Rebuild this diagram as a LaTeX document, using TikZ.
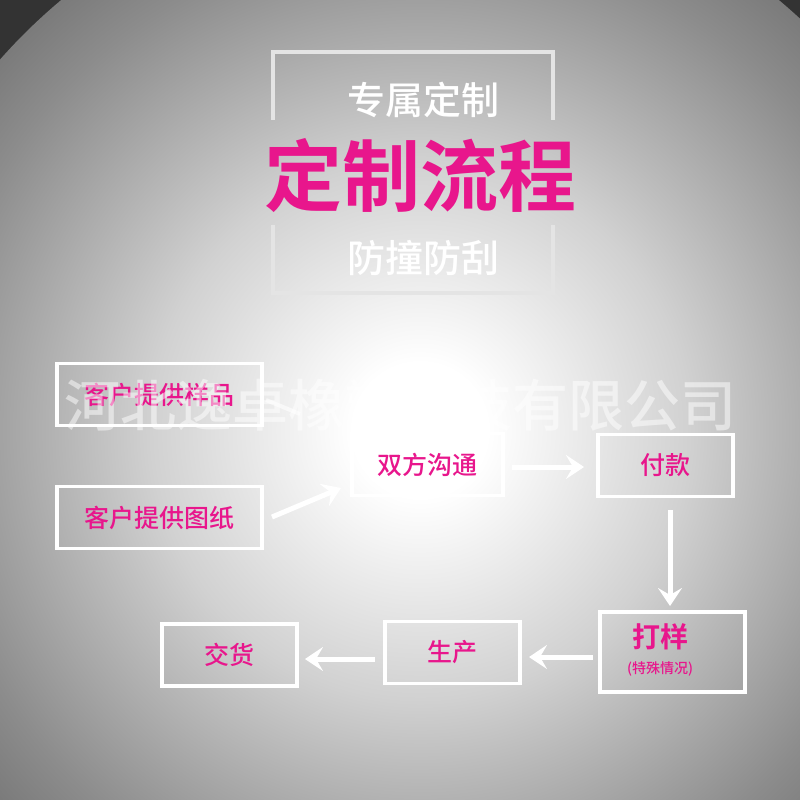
\documentclass[tikz,border=0pt]{standalone}
\usepackage{fontspec}
\newfontfamily\cjk{Noto Sans CJK SC Medium}
\newfontfamily\cjkb{Noto Sans CJK SC Bold}
\usetikzlibrary{arrows.meta}
\definecolor{mag}{HTML}{E8168C}
\definecolor{frm}{HTML}{E4E4E4}
\pgfdeclareradialshading{bgs}{\pgfpoint{0bp}{0bp}}{color(0bp)=(white); color(3bp)=(white); color(12bp)=(black!18); color(22bp)=(black!45); color(32bp)=(black!68); color(50bp)=(black!80)}
\begin{document}
\begin{tikzpicture}[x=1pt,y=-1pt,
  box/.style={draw=white,line width=3.5pt,minimum width=#1,minimum height=62pt,inner sep=0pt,font=\cjk\fontsize{25}{25}\selectfont,text=mag},
  box/.default=140pt,
  arr/.style={draw=white,line width=5pt,-{Stealth[length=18pt,width=24pt,inset=7pt]}}]
\useasboundingbox (0,0) rectangle (800,800);
\fill[black!80] (0,0) rectangle (800,800);
\begin{scope}
\clip (0,0) rectangle (800,800);
\shade[shading=bgs] (420,430) circle (560);
\end{scope}
% title frame
\draw[frm,line width=3.5pt] (273,120) -- (273,52) -- (553,52) -- (553,120);
\draw[frm,line width=3.5pt] (273,225) -- (273,293) -- (553,293) -- (553,225);
\node (t1) at (423,100) {\cjk\fontsize{38}{38}\selectfont\color{white}专属定制};
\node (t2) at (420,176) {\cjkb\fontsize{78}{78}\selectfont\color{mag}定制流程};
\node (t3) at (423,258) {\cjk\fontsize{38}{38}\selectfont\color{white}防撞防刮};
% boxes
\node[box=205pt] (b1) at (159.5,394.5) {客户提供样品};
\node[box=205pt] (b2) at (159.5,517.5) {客户提供图纸};
\node[box=151pt] (b3) at (427.5,464.5) {双方沟通};
\node[box=135pt] (b4) at (665.5,465.5) {付款};
\node[box=145pt,minimum height=80pt] (b5) at (672.5,652) {};
\node[font=\cjkb\fontsize{28}{28}\selectfont,text=mag] (b5a) at (660,637) {打样};
\node[font=\cjk\fontsize{14}{14}\selectfont,text=mag] (b5b) at (660,669) {(特殊情况)};
\node[box=135pt] (b6) at (452.5,652.5) {生产};
\node[box=135pt] (b7) at (229.5,655) {交货};
% watermark
\node[font=\cjk\fontsize{56}{56}\selectfont,text=white,opacity=0.5] (wm) at (400,405) {河北逸卓橡塑科技有限公司};
% arrows
\coordinate (c1a) at (266,400);
\coordinate (c1) at (300,414);
\draw[white,line width=4pt,opacity=0.6] (c1a) -- (c1);
\coordinate (a1) at (272,517);
\coordinate (a2) at (341,488);
\draw[arr] (a1) -- (a2);
\coordinate (a3) at (512,467);
\coordinate (a4) at (584,467);
\draw[arr] (a3) -- (a4);
\coordinate (a5) at (670,510);
\coordinate (a6) at (670,606);
\draw[arr] (a5) -- (a6);
\coordinate (a7) at (593,657);
\coordinate (a8) at (529,657);
\draw[arr] (a7) -- (a8);
\coordinate (a9) at (375,659);
\coordinate (a10) at (305,659);
\draw[arr] (a9) -- (a10);
\end{tikzpicture}
\end{document}
